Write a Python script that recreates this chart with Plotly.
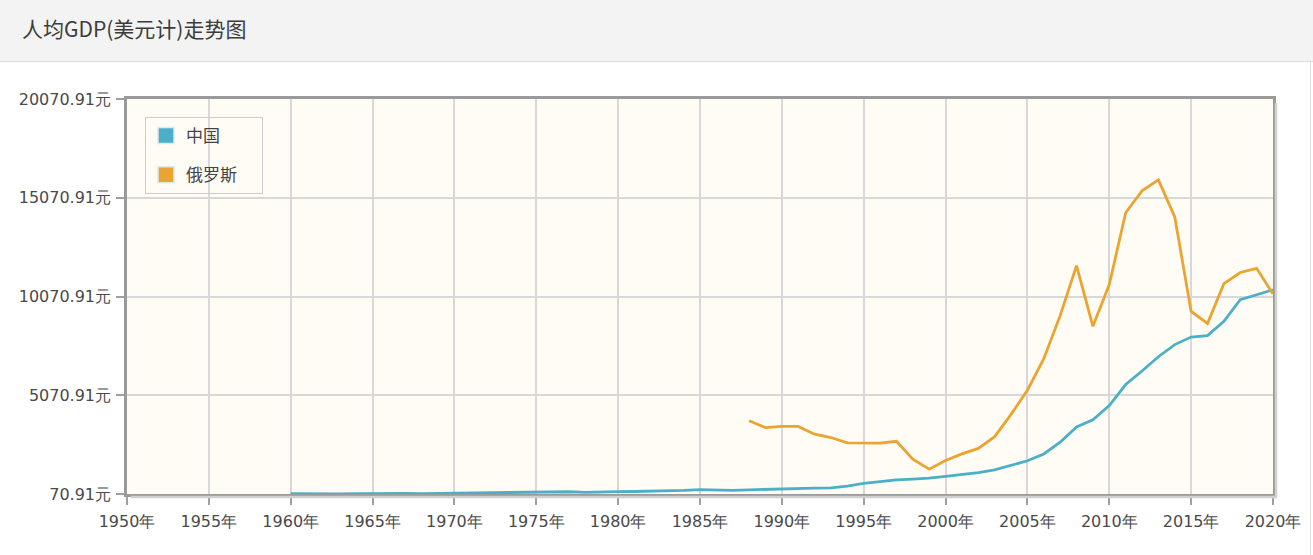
import plotly.graph_objects as go

# ---- data ----
china_years = list(range(1960, 2021))
china_values = [89.5, 75.8, 70.9, 74.3, 85.5, 98.5, 104.3, 96.6, 91.5, 100.1,
                113.2, 118.7, 131.9, 157.1, 160.1, 178.3, 165.4, 185.4, 156.4, 183.9,
                194.8, 197.1, 203.3, 225.4, 250.7, 294.5, 281.9, 251.8, 283.5, 310.9,
                317.9, 333.1, 366.5, 377.4, 473.5, 609.7, 709.4, 781.7, 828.6, 873.3,
                959.4, 1053.1, 1148.5, 1288.6, 1508.7, 1753.4, 2099.2, 2693.9, 3468.3, 3832.2,
                4550.5, 5614.4, 6300.6, 7020.4, 7636.1, 8016.4, 8094.4, 8817.0, 9905.3, 10143.9,
                10408.7]
russia_years = list(range(1988, 2021))
russia_values = [3777.2, 3428.9, 3492.6, 3490.4, 3098.8, 2929.7, 2662.6, 2665.8, 2643.9, 2737.6,
                 1834.9, 1330.8, 1771.6, 2100.4, 2377.5, 2975.1, 4102.4, 5323.5, 6920.2, 9101.3,
                 11635.3, 8562.8, 10674.9, 14311.1, 15420.9, 15974.6, 14095.6, 9313.0, 8704.9, 10720.3,
                 11287.4, 11497.6, 10194.4]
series_names = ["中国", "俄罗斯"]
series_colors = ["#4bb0c7", "#eba431"]

y_tickvals = [70.91, 5070.91, 10070.91, 15070.91, 20070.91]
y_ticktext = ["70.91元", "5070.91元", "10070.91元", "15070.91元", "20070.91元"]
x_tickvals = list(range(1950, 2021, 5))
x_ticktext = [f"{y}年" for y in x_tickvals]
title_text = "人均GDP(美元计)走势图"

# ---- geometry ----
W, H = 1313, 555
L, R, T, B = 127, 1273, 99, 494
pw, ph = R - L, B - T

def px(x):
    return (x - L) / pw

def py(y):
    return (B - y) / ph

fig = go.Figure()

pad = "\u00a0" * 5
for name, xs, ys, col, grp in [
    (series_names[0], china_years, china_values, series_colors[0], "g1"),
    (series_names[1], russia_years, russia_values, series_colors[1], "g2"),
]:
    fig.add_trace(go.Scatter(x=xs, y=ys, mode="lines", line=dict(color=col, width=2.8),
                             showlegend=False, name=name, legendgroup=grp))
    fig.add_trace(go.Scatter(x=[None], y=[None], mode="markers", name=name + pad, legendgroup=grp,
                             marker=dict(symbol="square", size=16, color=col,
                                         line=dict(color="#dfe8ea", width=1.5)),
                             showlegend=True))

shapes = [
    # header bar
    dict(type="rect", xref="paper", yref="paper", x0=px(0), x1=px(W), y0=py(61), y1=py(0),
         fillcolor="#f3f3f3", line=dict(width=0), layer="below"),
    dict(type="line", xref="paper", yref="paper", x0=px(0), x1=px(W), y0=py(61.5), y1=py(61.5),
         line=dict(color="#dcdcdc", width=1)),
    dict(type="line", xref="paper", yref="paper", x0=px(1310.5), x1=px(1310.5), y0=py(62), y1=py(H),
         line=dict(color="#e2e2e2", width=1)),
    # shadow of plot area
    dict(type="line", xref="paper", yref="paper", x0=px(R + 3), x1=px(R + 3), y0=py(T + 4), y1=py(B + 3),
         line=dict(color="#d0d0d0", width=2.5)),
    dict(type="line", xref="paper", yref="paper", x0=px(L + 4), x1=px(R + 4), y0=py(B + 3), y1=py(B + 3),
         line=dict(color="#d0d0d0", width=2.5)),
]

fig.update_layout(
    width=W, height=H,
    margin=dict(l=L, r=W - R, t=T, b=H - B),
    paper_bgcolor="white",
    plot_bgcolor="#fffcf5",
    font=dict(family="DejaVu Sans", color="#555"),
    title=dict(text=title_text, x=22 / W, xref="container", xanchor="left",
               y=1 - 30 / H, yref="container", yanchor="middle",
               font=dict(family="Noto Sans CJK SC", size=21, color="#3c3c3c")),
    shapes=shapes,
    legend=dict(x=px(145), y=py(117), xanchor="left", yanchor="top",
                bgcolor="rgba(0,0,0,0)", bordercolor="#cccccc", borderwidth=1,
                font=dict(family="Noto Sans CJK SC", size=17, color="#444"),
                traceorder="grouped", tracegroupgap=14, itemwidth=30),
    xaxis=dict(range=[1950, 2020], tickvals=x_tickvals, ticktext=x_ticktext,
               showgrid=True, gridcolor="#d8d8d8", gridwidth=1.5,
               showline=True, linecolor="#9a9a9a", linewidth=2.5, mirror=True,
               ticks="outside", ticklen=8, tickcolor="#a0a0a0", tickwidth=1.5,
               ticklabelstandoff=3,
               tickfont=dict(family="DejaVu Sans", size=16, color="#4a4a4a"),
               zeroline=False, fixedrange=True),
    yaxis=dict(range=[70.91, 20070.91], tickvals=y_tickvals, ticktext=y_ticktext,
               showgrid=True, gridcolor="#d8d8d8", gridwidth=1.5,
               showline=True, linecolor="#9a9a9a", linewidth=2.5, mirror=True,
               ticks="outside", ticklen=8, tickcolor="#a0a0a0", tickwidth=1.5,
               ticklabelstandoff=2,
               tickfont=dict(family="DejaVu Sans", size=16, color="#4a4a4a"),
               zeroline=False, fixedrange=True),
)

fig.write_html("out.html", config={"displayModeBar": False},
               post_script="document.body.style.margin='0';document.body.style.overflow='hidden';")
